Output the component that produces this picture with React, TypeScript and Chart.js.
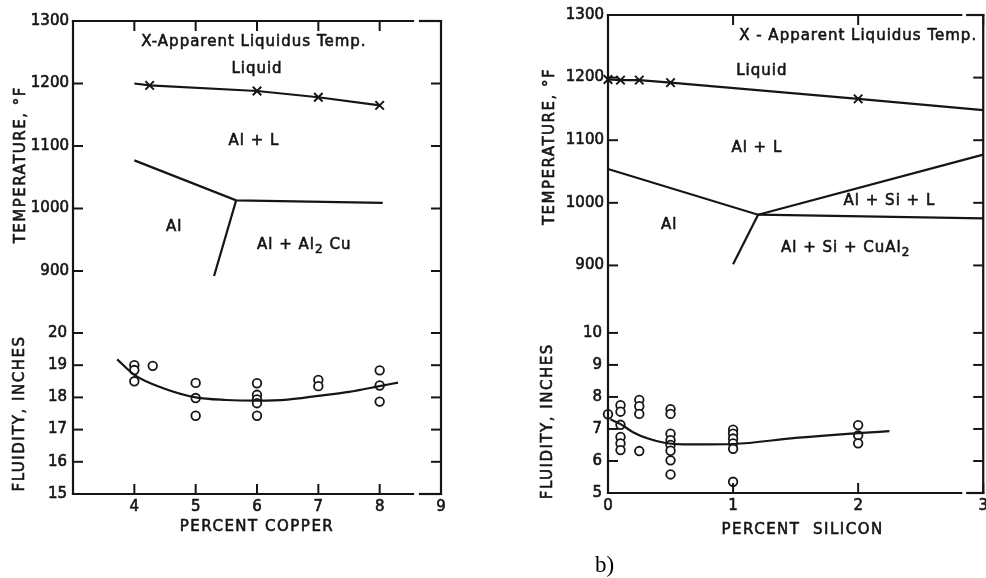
import React, { useEffect, useRef } from 'react';
import { Chart, registerables } from 'chart.js';

Chart.register(...registerables);

// ---------- Panel (a): Al–Cu ----------
const cuXTicks = [4, 5, 6, 7, 8, 9];
const cuTempTicks = [900, 1000, 1100, 1200, 1300];
const cuFluidTicks = [15, 16, 17, 18, 19, 20];

const cuLiquidusX = [4.0, 4.25, 6, 7, 8];
const cuLiquidusT = [1200, 1197, 1188, 1178, 1165];
const cuApparentX = [4.25, 6, 7, 8];
const cuApparentT = [1197, 1188, 1178, 1165];
const cuSolidusX = [4.0, 5.66, 8.05];
const cuSolidusT = [1077, 1013, 1009];
const cuSolvusX = [5.66, 5.3];
const cuSolvusT = [1013, 892];

const cuFluidX = [4, 4, 4, 4.3, 5, 5, 5, 6, 6, 6, 6, 6, 7, 7, 8, 8, 8];
const cuFluidY = [19.0, 18.85, 18.5, 18.98, 18.45, 17.98, 17.43, 18.44, 18.08, 17.94, 17.82, 17.43, 18.54, 18.35, 18.84, 18.37, 17.87];
const cuCurveX = [3.72, 4, 4.45, 5, 5.5, 6, 6.5, 7, 7.5, 8, 8.3];
const cuCurveY = [19.18, 18.7, 18.3, 18.0, 17.92, 17.9, 17.93, 18.05, 18.17, 18.35, 18.46];

// ---------- Panel (b): Al–Si ----------
const siXTicks = [0, 1, 2, 3];
const siTempTicks = [900, 1000, 1100, 1200, 1300];
const siFluidTicks = [5, 6, 7, 8, 9, 10];

const siLiquidusX = [0, 0.1, 0.25, 0.5, 2, 3];
const siLiquidusT = [1197, 1196, 1196, 1192, 1166, 1148];
const siApparentX = [0, 0.1, 0.25, 0.5, 2];
const siApparentT = [1197, 1196, 1196, 1192, 1166];
const siSolidusX = [0, 1.2, 3];
const siSolidusT = [1054, 981, 975];
const siSiLiquidusX = [1.2, 3];
const siSiLiquidusT = [981, 1077];
const siSolvusX = [1.2, 1.0];
const siSolvusT = [981, 902];

const siFluidX = [0, 0.1, 0.1, 0.1, 0.1, 0.1, 0.1, 0.25, 0.25, 0.25, 0.25, 0.5, 0.5, 0.5, 0.5, 0.5, 0.5, 0.5, 0.5, 1, 1, 1, 1, 1, 1, 2, 2, 2];
const siFluidY = [7.46, 7.74, 7.54, 7.13, 6.75, 6.55, 6.34, 7.91, 7.71, 7.47, 6.31, 7.62, 7.47, 6.85, 6.65, 6.5, 6.32, 6.02, 5.58, 6.98, 6.85, 6.7, 6.55, 6.38, 5.35, 7.12, 6.8, 6.55];
const siCurveX = [0.02, 0.1, 0.2, 0.32, 0.45, 0.6, 0.8, 1, 1.5, 2, 2.25];
const siCurveY = [7.3, 7.15, 6.9, 6.7, 6.57, 6.52, 6.52, 6.53, 6.72, 6.87, 6.93];

type Seg = { t: string; sub?: boolean };
type Note = { segs: Seg[]; x: number; t: number };

const cuNotes: Note[] = [
  { segs: [{ t: 'X-Apparent Liquidus Temp.' }], x: 5.95, t: 1266 },
  { segs: [{ t: 'Liquid' }], x: 6.0, t: 1223 },
  { segs: [{ t: 'Al + L' }], x: 5.95, t: 1108 },
  { segs: [{ t: 'Al' }], x: 4.65, t: 971 },
  { segs: [{ t: 'Al + Al' }, { t: '2', sub: true }, { t: ' Cu' }], x: 6.77, t: 942 },
];
const siNotes: Note[] = [
  { segs: [{ t: 'X - Apparent Liquidus Temp.' }], x: 2.0, t: 1266 },
  { segs: [{ t: 'Liquid' }], x: 1.23, t: 1211 },
  { segs: [{ t: 'Al + L' }], x: 1.19, t: 1088 },
  { segs: [{ t: 'Al + Si + L' }], x: 2.25, t: 1002 },
  { segs: [{ t: 'Al' }], x: 0.49, t: 964 },
  { segs: [{ t: 'Al + Si + CuAl' }, { t: '2', sub: true }], x: 1.9, t: 928 },
];

const FONT = '"DejaVu Sans", "Liberation Sans", sans-serif';
const INK = '#151515';
const STROKE = 0.6;

const pts = (xs: number[], ys: number[]) => xs.map((x, i) => ({ x, y: ys[i] }));

interface Spec {
  xMin: number; xMax: number; xTicks: number[];
  tMin: number; tMax: number; tTicks: number[];
  fMin: number; fMax: number; fTicks: number[];
  tWeight: number; fWeight: number;
  axisWidth: number; xAxisHeight: number; padTop: number; padRight: number;
  tempTitleAt: number; fluidTitleAt: number; tempTitleDx: number; fluidTitleDx: number;
  xTitle: string; xTitleAt: number; xTitleDy: number;
  gap: [number, number];
  notes: Note[];
  lines: { xs: number[]; ys: number[] }[];
  marks: { xs: number[]; ys: number[] };
  fluid: { xs: number[]; ys: number[] };
  curve: { xs: number[]; ys: number[] };
}

function inkText(ctx: CanvasRenderingContext2D, t: string, x: number, y: number) {
  ctx.fillText(t, x, y);
  ctx.strokeText(t, x, y);
}

function drawSegs(ctx: CanvasRenderingContext2D, segs: Seg[], cx: number, cy: number, size: number) {
  const main = `${size}px ${FONT}`;
  const small = `${Math.round(size * 0.8)}px ${FONT}`;
  let total = 0;
  const ws = segs.map((s) => {
    ctx.font = s.sub ? small : main;
    const w = ctx.measureText(s.t).width;
    total += w;
    return w;
  });
  let x = cx - total / 2;
  ctx.textAlign = 'left';
  ctx.textBaseline = 'middle';
  segs.forEach((s, i) => {
    ctx.font = s.sub ? small : main;
    inkText(ctx, s.t, x, s.sub ? cy + size * 0.35 : cy);
    x += ws[i];
  });
}

function makeFrame(spec: Spec) {
  return {
    id: 'frame',
    afterDraw(chart: any) {
      const { ctx, chartArea: a, scales } = chart;
      const seg = (x1: number, y1: number, x2: number, y2: number) => {
        ctx.beginPath();
        ctx.moveTo(x1, y1);
        ctx.lineTo(x2, y2);
        ctx.stroke();
      };
      ctx.save();
      ctx.strokeStyle = INK;
      ctx.lineWidth = 2.2;
      ctx.lineCap = 'square';
      const g0 = a.right - spec.gap[0];
      const g1 = a.right - spec.gap[1];
      seg(a.left, a.top, a.left, a.bottom);
      seg(a.right, a.top, a.right, a.bottom);
      seg(a.left, a.top, g0, a.top);
      seg(g1, a.top, a.right, a.top);
      seg(a.left, a.bottom, g0, a.bottom);
      seg(g1, a.bottom, a.right, a.bottom);
      const L = 10;
      ctx.lineCap = 'butt';
      ctx.lineWidth = 2;
      for (const v of spec.tTicks) {
        const y = scales.yT.getPixelForValue(v);
        seg(a.left, y, a.left + L, y);
        seg(a.right - L, y, a.right, y);
      }
      for (const v of spec.fTicks) {
        const y = scales.yF.getPixelForValue(v);
        seg(a.left, y, a.left + L, y);
        seg(a.right - L, y, a.right, y);
      }
      for (const v of spec.xTicks) {
        const x = scales.x.getPixelForValue(v);
        seg(x, a.bottom, x, a.bottom - L);
        seg(x, a.top, x, a.top + L);
      }
      ctx.fillStyle = INK;
      ctx.lineWidth = STROKE;
      (ctx as any).letterSpacing = '1px';
      for (const n of spec.notes) {
        drawSegs(ctx, n.segs, scales.x.getPixelForValue(n.x), scales.yT.getPixelForValue(n.t), 15);
      }
      (ctx as any).letterSpacing = '1.5px';
      ctx.font = `15px ${FONT}`;
      ctx.textAlign = 'center';
      ctx.textBaseline = 'middle';
      inkText(ctx, spec.xTitle, scales.x.getPixelForValue(spec.xTitleAt), a.bottom + spec.xTitleDy);
      const vTitle = (text: string, x: number, y: number) => {
        ctx.save();
        ctx.translate(x, y);
        ctx.rotate(-Math.PI / 2);
        inkText(ctx, text, 0, 0);
        ctx.restore();
      };
      vTitle('TEMPERATURE, °F', a.left - spec.tempTitleDx, scales.yT.getPixelForValue(spec.tempTitleAt));
      vTitle('FLUIDITY, INCHES', a.left - spec.fluidTitleDx, scales.yF.getPixelForValue(spec.fluidTitleAt));
      ctx.restore();
    },
  };
}

function buildConfig(spec: Spec): any {
  const tickFont = { family: FONT, size: 15 };
  const tickCommon = {
    font: tickFont, color: INK, autoSkip: false,
    textStrokeColor: INK, textStrokeWidth: STROKE,
    callback: (v: number) => String(v),
  };
  const setTicks = (arr: number[]) => (scale: any) => {
    scale.ticks = arr.map((value) => ({ value }));
  };
  const datasets: any[] = [];
  spec.lines.forEach((l) =>
    datasets.push({
      data: pts(l.xs, l.ys), yAxisID: 'yT', borderColor: INK, borderWidth: 2.2,
      pointRadius: 0, tension: 0, fill: false, clip: false,
    })
  );
  datasets.push({
    data: pts(spec.marks.xs, spec.marks.ys), yAxisID: 'yT', showLine: false,
    pointStyle: 'crossRot', pointRadius: 6, pointBorderWidth: 2, borderColor: INK, clip: false,
  });
  datasets.push({
    data: pts(spec.curve.xs, spec.curve.ys), yAxisID: 'yF', borderColor: INK, borderWidth: 2.2,
    pointRadius: 0, cubicInterpolationMode: 'monotone', fill: false, clip: false,
  });
  datasets.push({
    data: pts(spec.fluid.xs, spec.fluid.ys), yAxisID: 'yF', showLine: false,
    pointStyle: 'circle', pointRadius: 4.3, pointBorderWidth: 1.8,
    borderColor: INK, backgroundColor: '#ffffff', pointBackgroundColor: '#ffffff', clip: false,
  });
  return {
    type: 'line',
    data: { datasets },
    options: {
      animation: false,
      responsive: false,
      devicePixelRatio: 1,
      layout: { padding: { top: spec.padTop, right: spec.padRight, left: 0, bottom: 0 } },
      plugins: { legend: { display: false }, tooltip: { enabled: false } },
      scales: {
        x: {
          type: 'linear', min: spec.xMin, max: spec.xMax,
          afterBuildTicks: setTicks(spec.xTicks),
          afterFit: (s: any) => { s.height = spec.xAxisHeight; },
          grid: { display: false, drawTicks: false }, border: { display: false },
          ticks: { ...tickCommon, padding: 4, maxRotation: 0 },
        },
        yF: {
          type: 'linear', position: 'left', stack: 'left', stackWeight: spec.fWeight, weight: 0,
          min: spec.fMin, max: spec.fMax,
          afterBuildTicks: setTicks(spec.fTicks),
          afterFit: (s: any) => { s.width = spec.axisWidth; },
          grid: { display: false, drawTicks: false }, border: { display: false },
          ticks: { ...tickCommon, padding: 6 },
        },
        yT: {
          type: 'linear', position: 'left', stack: 'left', stackWeight: spec.tWeight, weight: 1,
          min: spec.tMin, max: spec.tMax,
          afterBuildTicks: setTicks(spec.tTicks),
          afterFit: (s: any) => { s.width = spec.axisWidth; },
          grid: { display: false, drawTicks: false }, border: { display: false },
          ticks: { ...tickCommon, padding: 4 },
        },
      },
    },
    plugins: [makeFrame(spec)],
  };
}

const cuSpec: Spec = {
  xMin: 3, xMax: 9, xTicks: cuXTicks,
  tMin: 850, tMax: 1300, tTicks: cuTempTicks,
  fMin: 15, fMax: 20.955, fTicks: cuFluidTicks,
  tWeight: 281.25, fWeight: 191.75,
  axisWidth: 73, xAxisHeight: 84, padTop: 21, padRight: 29,
  tempTitleAt: 1070, fluidTitleAt: 17.5, tempTitleDx: 52, fluidTitleDx: 53,
  xTitle: 'PERCENT COPPER', xTitleAt: 6.0, xTitleDy: 33,
  gap: [28, 21],
  notes: cuNotes,
  lines: [
    { xs: cuLiquidusX, ys: cuLiquidusT },
    { xs: cuSolidusX, ys: cuSolidusT },
    { xs: cuSolvusX, ys: cuSolvusT },
  ],
  marks: { xs: cuApparentX, ys: cuApparentT },
  fluid: { xs: cuFluidX, ys: cuFluidY },
  curve: { xs: cuCurveX, ys: cuCurveY },
};

const siSpec: Spec = {
  xMin: 0, xMax: 3, xTicks: siXTicks,
  tMin: 850, tMax: 1300, tTicks: siTempTicks,
  fMin: 5, fMax: 11.13, fTicks: siFluidTicks,
  tWeight: 283.5, fWeight: 197.5,
  axisWidth: 108, xAxisHeight: 85, padTop: 12, padRight: 0,
  tempTitleAt: 1090, fluidTitleAt: 7.24, tempTitleDx: 58, fluidTitleDx: 60,
  xTitle: 'PERCENT  SILICON', xTitleAt: 1.556, xTitleDy: 37,
  gap: [22, 16],
  notes: siNotes,
  lines: [
    { xs: siLiquidusX, ys: siLiquidusT },
    { xs: siSolidusX, ys: siSolidusT },
    { xs: siSiLiquidusX, ys: siSiLiquidusT },
    { xs: siSolvusX, ys: siSolvusT },
  ],
  marks: { xs: siApparentX, ys: siApparentT },
  fluid: { xs: siFluidX, ys: siFluidY },
  curve: { xs: siCurveX, ys: siCurveY },
};

function Panel({ spec, left, width }: { spec: Spec; left: number; width: number }) {
  const ref = useRef<HTMLCanvasElement>(null);
  useEffect(() => {
    const chart = new Chart(ref.current as HTMLCanvasElement, buildConfig(spec));
    return () => chart.destroy();
  }, [spec]);
  return (
    <div style={{ position: 'absolute', left, top: 0, width, height: 578 }}>
      <canvas ref={ref} width={width} height={578} style={{ width, height: 578, display: 'block' }} />
    </div>
  );
}

export default function App() {
  return (
    <div style={{ position: 'absolute', left: 0, top: 0, width: 986, height: 578, overflow: 'hidden', background: '#ffffff' }}>
      <Panel spec={cuSpec} left={0} width={470} />
      <Panel spec={siSpec} left={500} width={492} />
      <div style={{ position: 'absolute', left: 595, top: 553, fontFamily: '"Liberation Serif", serif', fontSize: 23, lineHeight: 1, color: '#000' }}>
        b)
      </div>
    </div>
  );
}
